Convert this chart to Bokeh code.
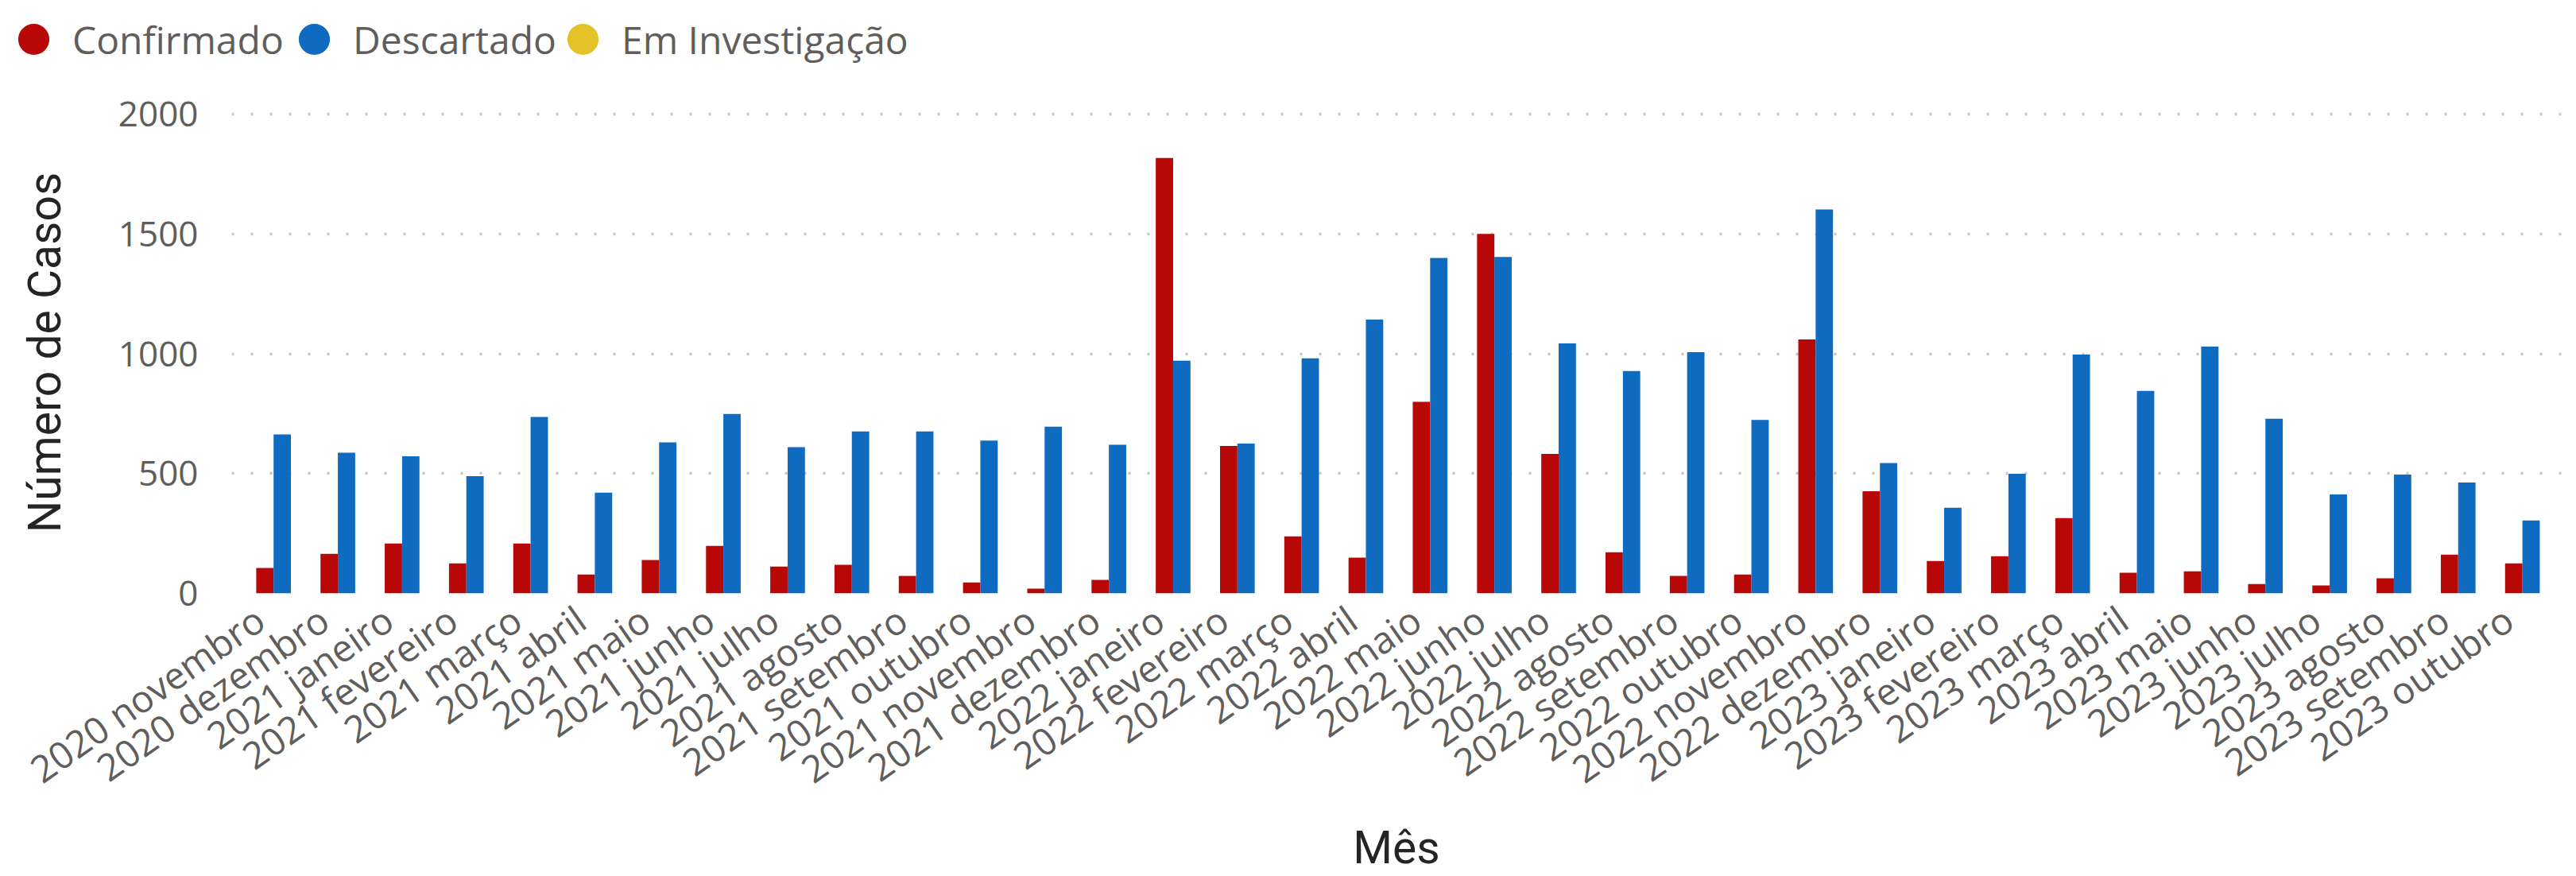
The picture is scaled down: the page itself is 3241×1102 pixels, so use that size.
from bokeh.plotting import figure
from bokeh.models import (ColumnDataSource, Range1d, FixedTicker, Legend, LegendItem)
from bokeh.transform import dodge
from bokeh.embed import file_html
from bokeh.resources import INLINE
import math

meses = ["2020 novembro", "2020 dezembro", "2021 janeiro", "2021 fevereiro", "2021 março",
         "2021 abril", "2021 maio", "2021 junho", "2021 julho", "2021 agosto", "2021 setembro",
         "2021 outubro", "2021 novembro", "2021 dezembro", "2022 janeiro", "2022 fevereiro",
         "2022 março", "2022 abril", "2022 maio", "2022 junho", "2022 julho", "2022 agosto",
         "2022 setembro", "2022 outubro", "2022 novembro", "2022 dezembro", "2023 janeiro",
         "2023 fevereiro", "2023 março", "2023 abril", "2023 maio", "2023 junho", "2023 julho",
         "2023 agosto", "2023 setembro", "2023 outubro"]
confirmado = [106, 165, 208, 125, 208, 79, 139, 198, 112, 119, 73, 46, 20,
              56, 1817, 615, 238, 149, 799, 1500, 582, 172, 73, 79, 1060,
              426, 135, 155, 314, 86, 92, 39, 33, 63, 162, 125]
descartado = [663, 587, 572, 489, 736, 420, 630, 749, 610, 676, 676, 638, 696,
              620, 971, 625, 981, 1143, 1400, 1404, 1043, 928, 1007, 724, 1602,
              544, 357, 499, 997, 845, 1030, 729, 413, 496, 463, 304]
em_investigacao = [0, 0, 0, 0, 0, 0, 0, 0, 0, 0, 0, 0, 0, 0, 0, 0, 0, 0,
                   0, 0, 0, 0, 0, 0, 0, 0, 0, 0, 0, 0, 0, 0, 0, 0, 0, 0]
series = ["Confirmado", "Descartado", "Em Investigação"]
y_ticks = [0, 500, 1000, 1500, 2000]

colors = ["#B70707", "#0F6BBF", "#E6C229"]
TICK_FONT = "Open Sans"
TITLE_FONT = "Roboto"
TICK_COLOR = "#605E5C"
TITLE_COLOR = "#252423"
W = 3241
LEG_H = 100

# ---------- legend strip (its own small figure, frame = whole strip) ----------
leg = figure(width=W, height=LEG_H, output_backend="svg", toolbar_location=None,
             x_range=Range1d(0, 1), y_range=Range1d(0, 1),
             x_axis_type=None, y_axis_type=None,
             min_border_left=0, min_border_right=0, min_border_top=0, min_border_bottom=0)
leg.grid.visible = False
leg.outline_line_color = None
leg_x = [-7, 346, 684]          # left edge of each legend entry box (px)
for name, col, lx in zip(series, colors, leg_x):
    key = leg.scatter(x=[float("nan")], y=[float("nan")], marker="circle",
                      fill_color=col, line_color=None)
    lg = Legend(items=[LegendItem(label=name, renderers=[key])], location=(lx, 2),
                glyph_width=98, glyph_height=98, label_standoff=0, spacing=0,
                padding=0, margin=0, border_line_color=None, background_fill_alpha=0,
                label_text_font=TICK_FONT, label_text_font_size="48px",
                label_text_color=TICK_COLOR)
    leg.add_layout(lg, "center")

# ---------- main chart ----------
idx = list(range(len(meses)))
src = ColumnDataSource(data=dict(idx=idx, c=confirmado, d=descartado, e=em_investigacao))

bw = 0.27
p = figure(width=W, height=1102 - LEG_H, output_backend="svg", toolbar_location=None,
           x_range=Range1d(-0.787, 35.47), y_range=Range1d(0, 2010),
           min_border_left=291, min_border_right=19, min_border_top=40, min_border_bottom=356)
p.outline_line_color = None
p.background_fill_color = "white"
p.border_fill_color = "white"

p.vbar(x=dodge("idx", -bw, range=p.x_range), top="c", width=bw, source=src,
       fill_color=colors[0], line_color=None)
p.vbar(x=dodge("idx", 0, range=p.x_range), top="d", width=bw, source=src,
       fill_color=colors[1], line_color=None)
p.vbar(x=dodge("idx", bw, range=p.x_range), top="e", width=bw, source=src,
       fill_color=colors[2], line_color=None)

# x axis
delta = -0.35
xt = [i + delta for i in idx]
p.xaxis.ticker = FixedTicker(ticks=xt)
p.xaxis.major_label_overrides = {t: m for t, m in zip(xt, meses)}
p.xaxis.major_label_orientation = math.radians(35)
p.xaxis.major_label_text_font = TICK_FONT
p.xaxis.major_label_text_font_size = "47px"
p.xaxis.major_label_text_color = TICK_COLOR
p.xaxis.major_label_standoff = 27
p.xaxis.axis_label = "Mês"
p.xaxis.axis_label_text_font = TITLE_FONT
p.xaxis.axis_label_text_font_style = "normal"
p.xaxis.axis_label_text_font_size = "57px"
p.xaxis.axis_label_text_color = TITLE_COLOR
p.xaxis.axis_label_standoff = 5

# y axis
p.yaxis.ticker = FixedTicker(ticks=y_ticks)
p.yaxis.major_label_text_font = TICK_FONT
p.yaxis.major_label_text_font_size = "44px"
p.yaxis.major_label_text_color = TICK_COLOR
p.yaxis.major_label_standoff = 42
p.yaxis.axis_label = "Número de Casos"
p.yaxis.axis_label_text_font = TITLE_FONT
p.yaxis.axis_label_text_font_style = "normal"
p.yaxis.axis_label_text_font_size = "57px"
p.yaxis.axis_label_text_color = TITLE_COLOR
p.yaxis.axis_label_standoff = 56

for ax in (p.xaxis, p.yaxis):
    ax.axis_line_color = None
    ax.major_tick_line_color = None
    ax.minor_tick_line_color = None
    ax.major_tick_out = 0
    ax.major_tick_in = 0

p.xgrid.grid_line_color = None
p.ygrid.grid_line_color = "#C8C6C4"
p.ygrid.grid_line_width = 3.5
p.ygrid.grid_line_dash = "3 21"

open("out.html", "w").write(file_html([leg, p], INLINE))
